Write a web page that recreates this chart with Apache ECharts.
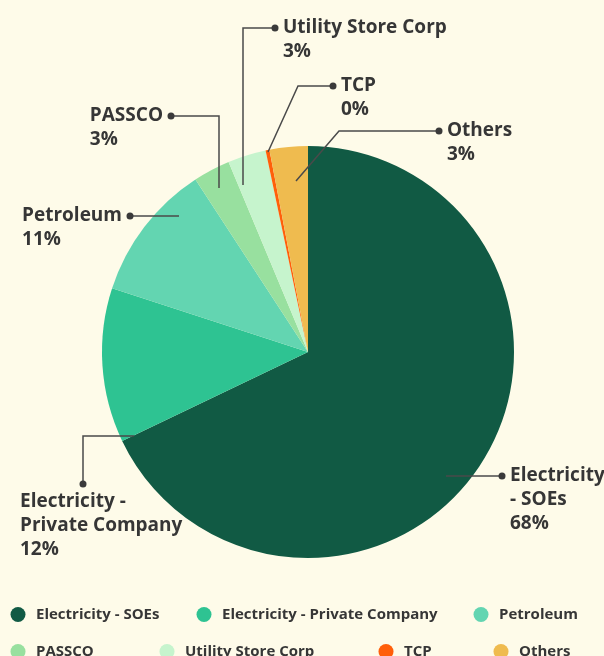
<!DOCTYPE html>
<html>
<head>
<meta charset="utf-8">
<script src="https://cdn.jsdelivr.net/npm/echarts@6/dist/echarts.min.js"></script>
<style>
  html, body { margin: 0; padding: 0; background: #fefbe9; }
  #chart { width: 604px; height: 656px; }
</style>
</head>
<body>
<div id="chart"></div>
<script>
// spending share by category (percent)
const categories = ['Electricity - SOEs', 'Electricity - Private Company', 'Petroleum', 'PASSCO', 'Utility Store Corp', 'TCP', 'Others'];
const shares = [67.9, 12.1, 10.8, 2.9, 3.0, 0.3, 3.0];
const colors = ['#115a44', '#2ec392', '#63d5b1', '#98e09f', '#c6f4cd', '#ff5f0a', '#efbb4f'];

// how the long names wrap in the callouts
const wrapped = {
  'Electricity - SOEs': 'Electricity\n- SOEs',
  'Electricity - Private Company': 'Electricity -\nPrivate Company'
};

// callout placement: inner end of the leader, elbow, dot, and which side text goes
const callouts = [
  { inner: [446, 476], elbow: [474, 476], dot: [502, 476], side: 'right' },
  { inner: [134, 436], elbow: [83, 436], dot: [83, 484], side: 'below', textX: 20 },
  { inner: [179, 216], elbow: [155, 216], dot: [130, 216], side: 'left' },
  { inner: [219, 188], elbow: [219, 116], dot: [171, 116], side: 'left' },
  { inner: [243, 185], elbow: [243, 28], dot: [275, 28], side: 'right' },
  { inner: [268, 152], elbow: [298, 86], dot: [333, 86], side: 'right' },
  { inner: [296, 181], elbow: [339, 131], dot: [439, 131], side: 'right' }
];

// legend icon centres, two rows
const legendSpots = [[18, 613], [204, 613], [481, 613], [18, 650], [167, 650], [386, 650], [501, 650]];

const font = '"Open Sans"';
const ink = '#363636';

const chart = echarts.init(document.getElementById('chart'));

const legends = categories.map((name, i) => ({
  data: [name],
  left: legendSpots[i][0] - 7.5,
  top: legendSpots[i][1] - 6,
  padding: 0,
  icon: 'circle',
  itemWidth: 26,
  itemHeight: 15,
  selectedMode: false,
  textStyle: { fontFamily: font, fontWeight: 'bold', fontSize: 15, color: ink }
}));

// leader lines and end dots, drawn over the slices
const leaders = [];
callouts.forEach(c => {
  leaders.push({
    type: 'polyline',
    shape: { points: [c.inner, c.elbow, c.dot] },
    style: { stroke: '#4a4a4a', lineWidth: 1.5, fill: null },
    z: 100
  });
  leaders.push({
    type: 'circle',
    shape: { cx: c.dot[0], cy: c.dot[1], r: 3.5 },
    style: { fill: '#3a3a3a' },
    z: 101
  });
});

chart.setOption({
  backgroundColor: '#fefbe9',
  color: colors,
  legend: legends,
  graphic: leaders,
  series: [{
    type: 'pie',
    center: [308, 352],
    radius: 206,
    startAngle: 90,
    clockwise: true,
    avoidLabelOverlap: false,
    emphasis: { disabled: true },
    data: categories.map((name, i) => ({ name, value: shares[i] })),
    label: {
      show: true,
      fontFamily: font,
      fontWeight: 'bold',
      fontSize: 19,
      lineHeight: 24,
      color: ink,
      formatter: p => (wrapped[p.name] || p.name) + '\n' + Math.round(p.percent) + '%'
    },
    labelLine: { show: false },
    labelLayout: function (params) {
      const c = callouts[params.dataIndex];
      const w = params.labelRect.width;
      let x, y;
      if (c.side === 'right') { x = c.dot[0] + 8; y = c.dot[1] - 12; }
      else if (c.side === 'left') { x = c.dot[0] - 8 - w; y = c.dot[1] - 12; }
      else { x = c.textX; y = c.dot[1] + 6; }
      return { x: x, y: y, align: 'left', verticalAlign: 'top' };
    }
  }]
});
</script>
</body>
</html>
